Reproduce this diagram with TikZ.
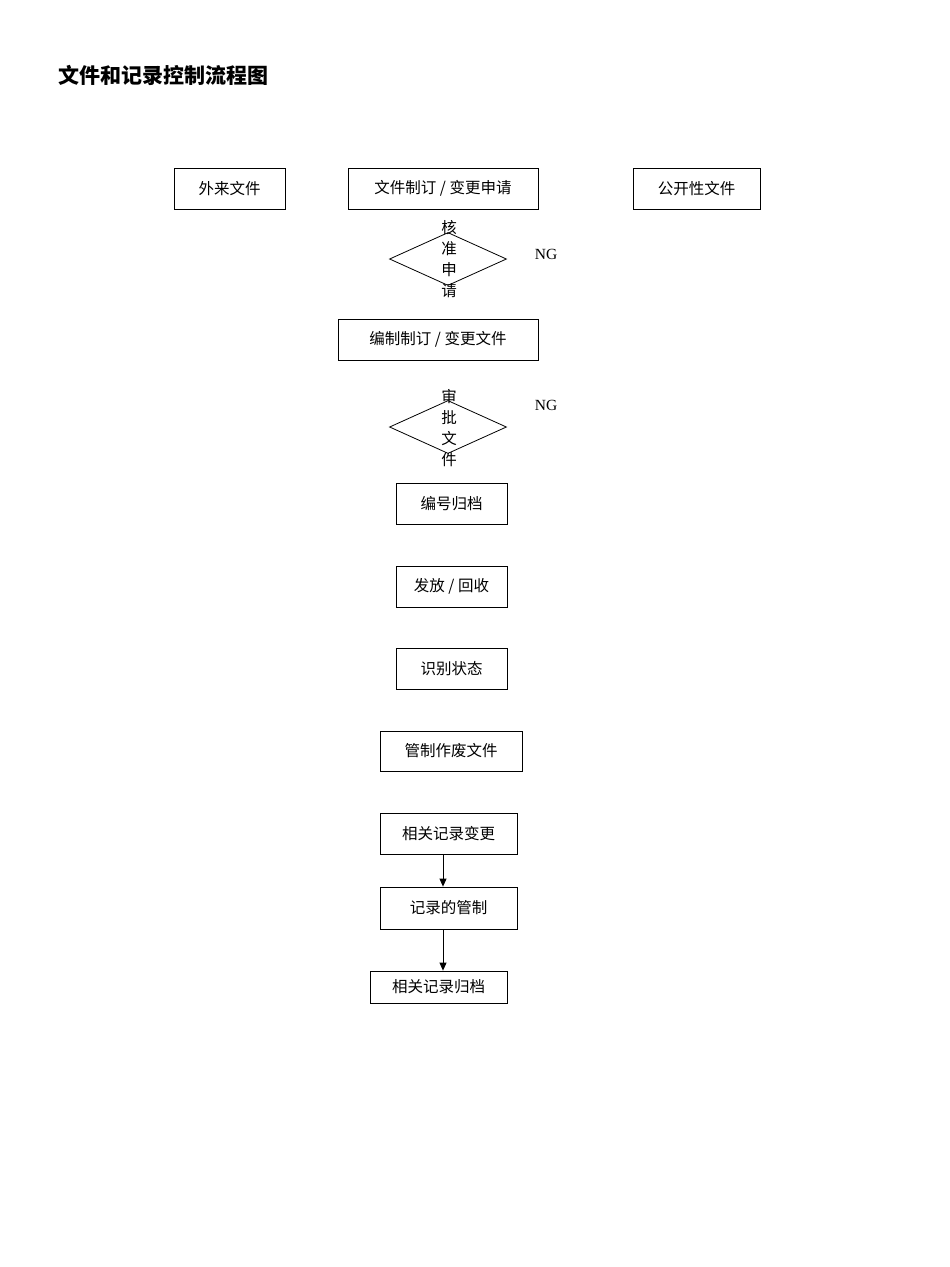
\documentclass[tikz,border=0pt]{standalone}
\usepackage{fontspec}
\setmainfont{Liberation Serif}
\newfontfamily\cjk{Noto Sans CJK SC}
\usetikzlibrary{shapes.geometric,arrows.meta}
\tikzset{
  bx/.style={draw,line width=0.8pt,inner sep=0pt,font=\cjk\fontsize{15.5pt}{18pt}\selectfont},
  dia/.style={draw,diamond,aspect=2.2,line width=0.8pt,minimum width=117pt,minimum height=53pt,inner sep=0pt},
  vt/.style={font=\cjk\fontsize{15.5pt}{21pt}\selectfont,align=center},
  ng/.style={font=\fontsize{15.5pt}{18pt}\selectfont},
  arr/.style={-{Triangle[length=8pt,width=7pt]},line width=0.8pt}
}
\newcommand{\mybox}[6]{\node[bx,minimum width={#4-#2},minimum height={#5-#3}] (#1) at ({(#2+#4)/2},{(#3+#5)/2}) {#6};}
\begin{document}
\begin{tikzpicture}[x=1pt,y=-1pt]
\useasboundingbox (0,0) rectangle (950,1267);
\node[anchor=west,font=\cjk\bfseries\fontsize{21pt}{24pt}\selectfont] (title) at (55,75) {文件和记录控制流程图};
\mybox{a}{174}{168}{285}{209}{外来文件}
\mybox{b}{348}{168}{538}{209}{文件制订 / 变更申请}
\mybox{c}{633}{168}{760}{209}{公开性文件}
\node[dia] (d1) at (448,259) {};
\node[vt] (d1t) at (449,259) {核\\准\\申\\请};
\node[ng] (ng1) at (546,254) {NG};
\mybox{e}{338}{319}{538}{360}{编制制订 / 变更文件}
\node[dia] (d2) at (448,427) {};
\node[vt] (d2t) at (449,428) {审\\批\\文\\件};
\node[ng] (ng2) at (546,405) {NG};
\mybox{f}{396}{483}{507}{524}{编号归档}
\mybox{g}{396}{566}{507}{607}{发放 / 回收}
\mybox{h}{396}{648}{507}{689}{识别状态}
\mybox{i}{380}{731}{522}{771}{管制作废文件}
\mybox{j}{380}{813}{517}{854}{相关记录变更}
\mybox{k}{380}{887}{517}{929}{记录的管制}
\mybox{l}{370}{971}{507}{1003}{相关记录归档}
\draw[arr] (j.south -| 443,0) -- (k.north -| 443,0);
\draw[arr] (k.south -| 443,0) -- (l.north -| 443,0);
\end{tikzpicture}
\end{document}
